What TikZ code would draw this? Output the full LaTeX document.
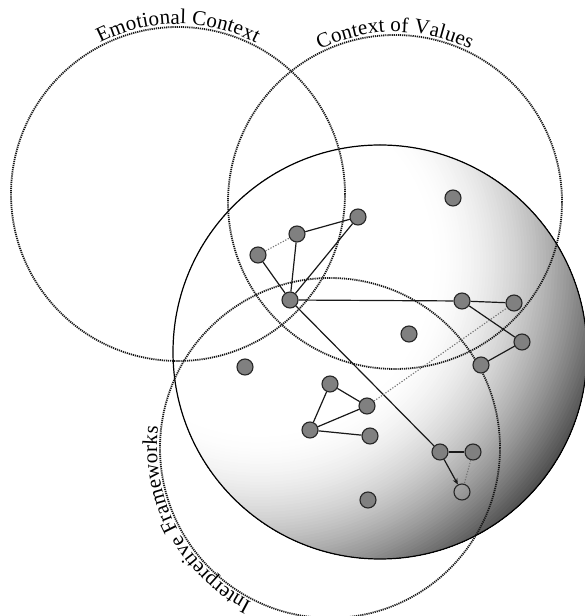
\documentclass[tikz,border=0pt]{standalone}
\usepackage{fontspec}
\setmainfont{Liberation Serif}
\usetikzlibrary{decorations.text,arrows.meta}
\tikzset{
  ctxcircle/.style={draw=black!90, line width=1.8pt, dash pattern=on 1.2pt off 0.9pt},
  dot/.style={circle, draw=black!85, fill=black!50, line width=1.1pt, minimum size=16pt, inner sep=0pt},
  hollow/.style={circle, draw=black!85, line width=1.1pt, minimum size=16pt, inner sep=0pt},
  link/.style={draw=black!90, line width=1.2pt},
  weak/.style={draw=black!55, line width=1.1pt, dash pattern=on 1.2pt off 1.6pt},
  arclabel/.style={decorate, decoration={text along path, text align=center, raise=3pt,
     text={|\fontsize{21}{21}\selectfont|#1}}}
}
\begin{document}
\begin{tikzpicture}[x=1pt,y=1pt]
\useasboundingbox (0,0) rectangle (585,616);
% sphere with stepped radial gradient
\coordinate (sc) at (380,264);
\coordinate (hl) at (260,354);
\begin{scope}
  \clip (sc) circle[radius=207];
  \fill[black] (sc) circle[radius=210];
  \foreach \d in {424,421,...,172} {
    \pgfmathsetmacro\pp{min(100,100*((\d-170)/230)^1.8)}
    \fill[black!\pp] (hl) circle[radius=\d];
  }
\end{scope}
\draw[line width=1.2pt] (sc) circle[radius=207];
% context circles
\coordinate (c1) at (178,422);
\coordinate (c2) at (395,414);
\coordinate (c3) at (330,168);
\draw[ctxcircle] (c1) circle[radius=167];
\draw[ctxcircle] (c2) circle[radius=167];
\draw[ctxcircle] (c3) circle[radius=170];
% labels on arcs
\path[arclabel={Emotional Context}] (c1) ++(150:167) arc[start angle=150, end angle=30, radius=167];
\path[arclabel={Context of Values}] (c2) ++(150:167) arc[start angle=150, end angle=30, radius=167];
\path[arclabel={Interpretive Frameworks}] (c3) ++(262:170) arc[start angle=262, end angle=154, radius=170];
% nodes
\node[dot] (A) at (358,399) {};
\node[dot] (B) at (297,382) {};
\node[dot] (C) at (258,361) {};
\node[dot] (D) at (290,316) {};
\node[dot] (E) at (453,418) {};
\node[dot] (F) at (462,315) {};
\node[dot] (G) at (514,313) {};
\node[dot] (H) at (409,282) {};
\node[dot] (I) at (522,274) {};
\node[dot] (J) at (481,251) {};
\node[dot] (K) at (245,249) {};
\node[dot] (L) at (330,232) {};
\node[dot] (M) at (367,210) {};
\node[dot] (N) at (310,186) {};
\node[dot] (O) at (370,180) {};
\node[dot] (P) at (440,164) {};
\node[dot] (Q) at (473,164) {};
\node[hollow] (R) at (462,124) {};
\node[dot] (S) at (368,116) {};
% connectors
\draw[link] (B) -- (A);
\draw[weak] (C) -- (B);
\draw[link] (C) -- (D);
\draw[link] (B) -- (D);
\draw[link] (A) -- (D);
\draw[link] (D) -- (F);
\draw[link] (F) -- (G);
\draw[link] (F) -- (I);
\draw[link] (I) -- (J);
\draw[link] (D) -- (P);
\draw[link] (P) -- (Q);
\draw[link,-{Stealth[length=6pt,width=5pt]}] (P) -- (R);
\draw[weak] (Q) -- (R);
\draw[link] (L) -- (M);
\draw[link] (L) -- (N);
\draw[link] (N) -- (M);
\draw[link] (N) -- (O);
\draw[weak] (M) -- (G);
\end{tikzpicture}
\end{document}
